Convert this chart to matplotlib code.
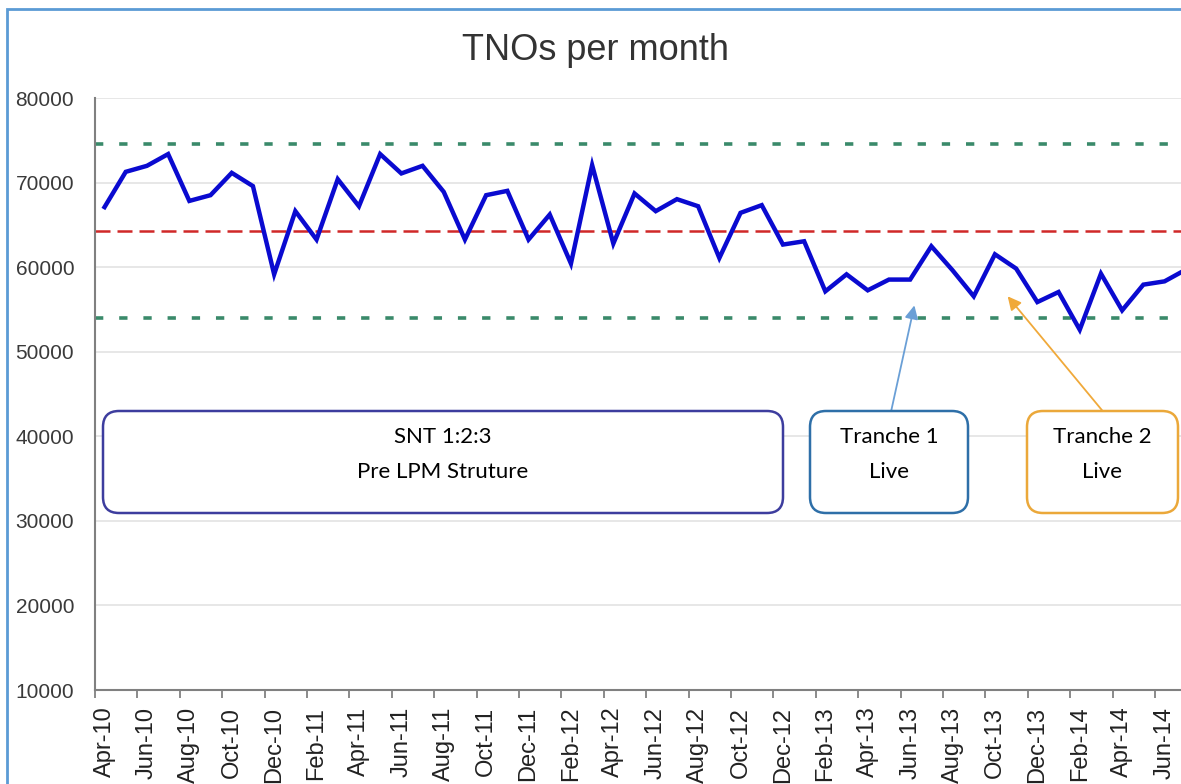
import matplotlib.pyplot as plt
from matplotlib.patches import FancyBboxPatch, Rectangle

# Datos (abr-10 a jul-14)
months = ['Apr-10', 'May-10', 'Jun-10', 'Jul-10', 'Aug-10', 'Sep-10', 'Oct-10', 'Nov-10',
          'Dec-10', 'Jan-11', 'Feb-11', 'Mar-11', 'Apr-11', 'May-11', 'Jun-11', 'Jul-11',
          'Aug-11', 'Sep-11', 'Oct-11', 'Nov-11', 'Dec-11', 'Jan-12', 'Feb-12', 'Mar-12',
          'Apr-12', 'May-12', 'Jun-12', 'Jul-12', 'Aug-12', 'Sep-12', 'Oct-12', 'Nov-12',
          'Dec-12', 'Jan-13', 'Feb-13', 'Mar-13', 'Apr-13', 'May-13', 'Jun-13', 'Jul-13',
          'Aug-13', 'Sep-13', 'Oct-13', 'Nov-13', 'Dec-13', 'Jan-14', 'Feb-14', 'Mar-14',
          'Apr-14', 'May-14', 'Jun-14', 'Jul-14']
tnos = [67100, 71270, 71980, 73370, 67830, 68510, 71150, 69580,
        59150, 66620, 63260, 70400, 67200, 73370, 71080, 71980,
        68900, 63260, 68510, 69020, 63260, 66220, 60420, 72060,
        62790, 68710, 66620, 68040, 67200, 61080, 66420, 67330,
        62670, 63060, 57140, 59150, 57260, 58530, 58530, 62470,
        59630, 56550, 61520, 59830, 55870, 57060, 52600, 59230,
        54890, 57930, 58320, 59700]
mean_line = 64250
upper_limit = 74550
lower_limit = 53950
yticks = [10000, 20000, 30000, 40000, 50000, 60000, 70000, 80000]

W, H = 1181, 784
fig = plt.figure(figsize=(W / 100, H / 100), dpi=100)
fig.patch.set_facecolor('white')

# Marco azul de la captura
fig.patches.append(Rectangle((7 / W, -0.1), 1.2, (H - 9) / H + 0.1, transform=fig.transFigure,
                             fill=False, edgecolor='#5b9bd5', linewidth=2))

# Ejes (se salen por la derecha, como en la captura recortada)
ax = fig.add_axes([95 / W, (H - 690) / H, 1100 / W, 592 / H])
x = list(range(len(tnos)))
ax.set_xlim(-0.45, -0.45 + 1100 / 21.2)
ax.set_ylim(10000, 80000)

ax.set_yticks(yticks)
ax.set_yticklabels([str(v) for v in yticks], fontsize=15, color='#3a3a3a',
                   family='Liberation Sans')
ax.tick_params(axis='y', length=0, pad=15)
ax.grid(axis='y', color='#e3e3e3', linewidth=1.2)
ax.set_axisbelow(True)

ax.set_xticks(x[::2])
ax.set_xticklabels(months[::2], rotation=90, fontsize=17, color='#222222',
                   family='Liberation Sans')
ax.set_xticks([i - 0.45 for i in x[::2]], minor=True)
ax.tick_params(axis='x', which='major', length=0, pad=12)
ax.tick_params(axis='x', which='minor', length=6, width=1.2, color='#777777')

for s in ['top', 'right']:
    ax.spines[s].set_visible(False)
for s in ['left', 'bottom']:
    ax.spines[s].set_color('#808080')
    ax.spines[s].set_linewidth(1.5)

# Limites de control y media
ax.axhline(upper_limit, color='#3a8a6a', linewidth=2.6, linestyle=(0, (2.3, 4.4)))
ax.axhline(lower_limit, color='#3a8a6a', linewidth=2.6, linestyle=(0, (2.3, 4.4)))
ax.axhline(mean_line, color='#d02828', linewidth=1.8, linestyle=(0, (6, 2.8)))

ax.plot(x, tnos, color='#0a0ad0', linewidth=3.2, solid_joinstyle='miter')

fig.text(596 / W, (H - 51) / H, 'TNOs per month', ha='center', va='center',
         fontsize=26, color='#333333', family='Liberation Sans')

# Cuadros de texto
def caja(x0, y0, x1, y1, color, lines):
    fig.patches.append(FancyBboxPatch((x0 / 100, (H - y1) / 100), (x1 - x0) / 100, (y1 - y0) / 100,
                                      boxstyle='round,pad=0,rounding_size=0.16',
                                      transform=fig.dpi_scale_trans, facecolor='white',
                                      edgecolor=color, linewidth=1.8, zorder=5))
    cx = (x0 + x1) / 2
    for ty, txt in zip([437, 472], lines):
        fig.text(cx / W, (H - ty) / H, txt, ha='center', va='center', fontsize=16,
                 color='#000000', family='Lato', zorder=6)

caja(103, 411, 783, 513, '#3d3d9e', ['SNT 1:2:3', 'Pre LPM Struture'])
caja(810, 411, 968, 513, '#2e6fa8', ['Tranche 1', 'Live'])
caja(1027, 411, 1178, 513, '#eba83a', ['Tranche 2', 'Live'])

ax.annotate('', xy=(38.2, 55480), xytext=(37.1, 42930),
            arrowprops=dict(arrowstyle='-|>', color='#6a9fd6', lw=1.3, mutation_scale=20,
                            shrinkA=0, shrinkB=0))
ax.annotate('', xy=(42.6, 56550), xytext=(47.1, 42930),
            arrowprops=dict(arrowstyle='-|>', color='#f0a93a', lw=1.3, mutation_scale=20,
                            shrinkA=0, shrinkB=0))

plt.savefig('out.png', dpi=100)
plt.close()
